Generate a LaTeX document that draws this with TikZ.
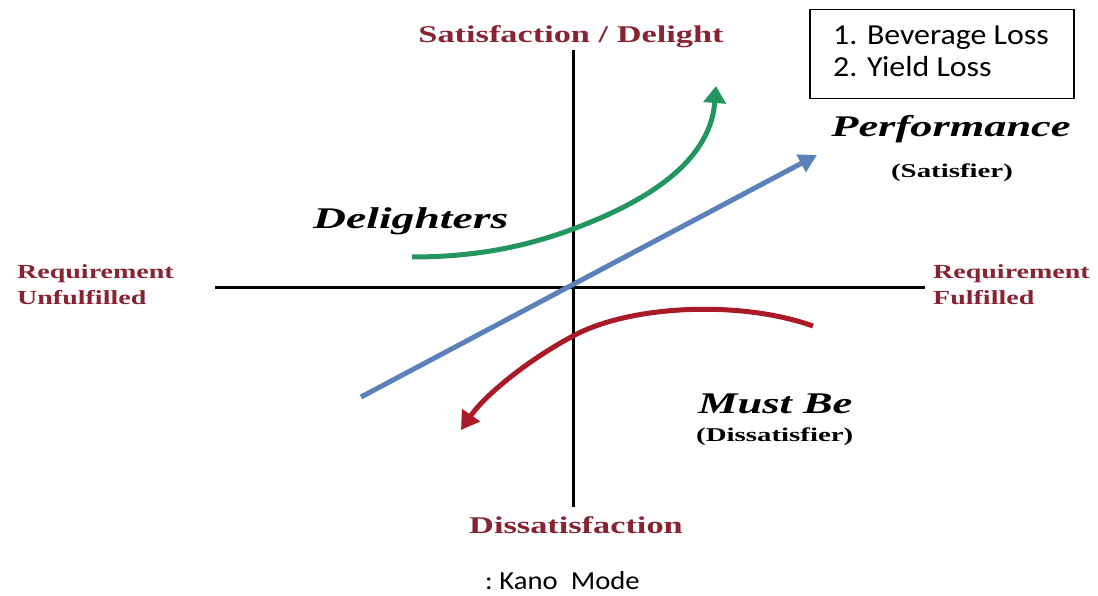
\documentclass[tikz,border=0pt]{standalone}
\usepackage{fontspec}
\setmainfont{Liberation Serif}
\newfontfamily\boxfont{Carlito}
\usetikzlibrary{arrows.meta}
\definecolor{axred}{RGB}{135,35,50}
\definecolor{delgreen}{RGB}{35,150,95}
\definecolor{perfblue}{RGB}{90,130,185}
\definecolor{mustred}{RGB}{170,25,40}
\newcommand\hstretch[2][1.48]{\scalebox{#1}[1]{#2}}
\begin{document}
\begin{tikzpicture}[x=1pt,y=-1pt,
  axisline/.style={line width=3pt,black},
  axislbl/.style={text=axred,inner sep=0pt},
  catlbl/.style={text=black,inner sep=0pt,font=\fontsize{30}{30}\selectfont\bfseries\itshape},
  sublbl/.style={text=black,inner sep=0pt,font=\fontsize{19.5}{19.5}\selectfont\bfseries},
  curve/.style={line width=5pt},
  boxtext/.style={inner sep=0pt,anchor=base west,font=\boxfont\fontsize{29}{29}\selectfont}]
\useasboundingbox (0,0) rectangle (1098,596);
\fill[white] (0,0) rectangle (1098,596);
% axes
\coordinate (vtop) at (573,50);
\coordinate (vbot) at (573,507);
\coordinate (hl) at (215,287);
\coordinate (hr) at (925,287);
\draw[axisline] (vtop) -- (vbot);
\draw[axisline] (hl) -- (hr);
% axis labels
\node[axislbl,anchor=base,font=\fontsize{24}{24}\selectfont\bfseries] (sat) at (571,43) {\hstretch[1.43]{Satisfaction / Delight}};
\node[axislbl,anchor=base,font=\fontsize{24}{24}\selectfont\bfseries] (dis) at (576,533) {\hstretch[1.43]{Dissatisfaction}};
\node[axislbl,anchor=base west,font=\fontsize{20}{20}\selectfont\bfseries] (ru1) at (17,278) {\hstretch[1.40]{Requirement}};
\node[axislbl,anchor=base west,font=\fontsize{20}{20}\selectfont\bfseries] (ru2) at (17,304) {\hstretch[1.40]{Unfulfilled}};
\node[axislbl,anchor=base west,font=\fontsize{20}{20}\selectfont\bfseries] (rf1) at (933,279) {\hstretch[1.40]{Requirement}};
\node[axislbl,anchor=base west,font=\fontsize{20}{20}\selectfont\bfseries] (rf2) at (933,304) {\hstretch[1.40]{Fulfilled}};
% curves
\coordinate (gs) at (412,257);
\coordinate (gm) at (573,229);
\coordinate (ge) at (716,86);
\draw[curve,delgreen,-{Triangle[width=22pt,length=17pt]}] (gs) .. controls (480,257) and (530,245) .. (gm) .. controls (640,204) and (710,165) .. (ge);
\coordinate (bs) at (361,397);
\coordinate (be) at (817,155);
\draw[curve,perfblue,-{Triangle[width=19pt,length=18pt]}] (bs) -- (be);
\coordinate (rs) at (813,326);
\coordinate (rm) at (573,336);
\coordinate (re) at (461,430);
\draw[curve,mustred,-{Triangle[width=21pt,length=18pt]}] (rs) .. controls (740,300) and (630,305) .. (rm) .. controls (528,360) and (485,395) .. (re);
% category labels
\node[catlbl,anchor=base] (perf) at (951,137) {\hstretch{Performance}};
\node[sublbl,anchor=base] (satf) at (952,178) {\hstretch{(Satisfier)}};
\node[catlbl,anchor=base west] (del) at (313,229) {\hstretch[1.52]{Delighters}};
\node[catlbl,anchor=base west] (must) at (698,413) {\hstretch{Must Be}};
\node[sublbl,anchor=base west] (dsf) at (696,441) {\hstretch{(Dissatisfier)}};
% legend box
\node[draw,line width=1.5pt,anchor=north west,minimum width=264pt,minimum height=89pt,inner sep=0pt] (box) at (809,9) {};
\node[boxtext] (b1) at (833,45) {\scalebox{1.1}[1]{1. Beverage Loss}};
\node[boxtext] (b2) at (833,77) {\scalebox{1.1}[1]{2. Yield Loss}};
% caption
\node[inner sep=0pt,anchor=base west,font=\boxfont\fontsize{26}{26}\selectfont] (cap) at (485,589) {\scalebox{1.1}[1]{:\hspace{6pt}Kano\hspace{12pt}Mode}};
\end{tikzpicture}
\end{document}
